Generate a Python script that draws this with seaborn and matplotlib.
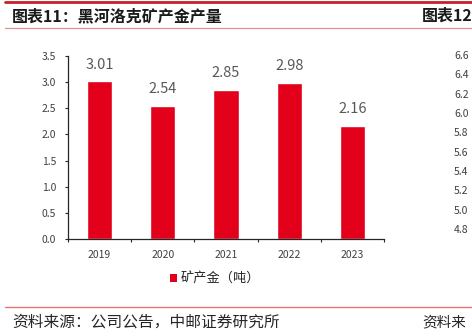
import matplotlib
matplotlib.use("Agg")
import matplotlib.pyplot as plt
from matplotlib.lines import Line2D
from matplotlib.patches import Patch
import seaborn as sns
import pandas as pd
import numpy as np

# Heihe Luoke mine gold output (tonnes)
years = ["2019", "2020", "2021", "2022", "2023"]
gold_output = [3.01, 2.54, 2.85, 2.98, 2.16]
series_name = "矿产金（吨）"
title_text = "图表11：黑河洛克矿产金产量"
next_title_text = "图表12"
source_text = "资料来源：公司公告，中邮证券研究所"
next_source_text = "资料来"
next_chart_ticks = [4.8, 5.0, 5.2, 5.4, 5.6, 5.8, 6.0, 6.2, 6.4, 6.6]

sns.set_theme(style="white")
plt.rcParams["font.family"] = ["Noto Sans CJK SC", "DejaVu Sans"]

W, H = 472, 336
fig = plt.figure(figsize=(W / 100, H / 100), dpi=100)
fig.patch.set_facecolor("white")

def fx(px):
    return px / W

def fy(py):
    return 1 - py / H

BAR_RED = "#E2001A"
AX_COLOR = "#262626"
TXT_GRAY = "#404040"

# main bar chart
ax = fig.add_axes([fx(68), fy(239.3), fx(384) - fx(68), fy(55.7) - fy(239.3)])
df = pd.DataFrame({"year": years, "value": gold_output})
sns.barplot(data=df, x="year", y="value", color=BAR_RED, saturation=1,
            width=0.4, ax=ax, label=series_name)
ax.set_xlim(-0.5, len(years) - 0.5)
ax.set_ylim(0, 3.5)
ax.set_yticks(np.arange(0, 3.51, 0.5))
ax.set_yticklabels([f"{v:.1f}" for v in np.arange(0, 3.51, 0.5)])
ax.set_xlabel("")
ax.set_ylabel("")
for s in ["top", "right"]:
    ax.spines[s].set_visible(False)
for s in ["left", "bottom"]:
    ax.spines[s].set_color(AX_COLOR)
    ax.spines[s].set_linewidth(0.9)
ax.tick_params(axis="y", which="major", left=True, length=2.5, width=0.8,
               color=AX_COLOR, pad=6, labelsize=7.5, labelcolor=TXT_GRAY)
ax.tick_params(axis="x", which="major", bottom=False, length=0, pad=8,
               labelsize=7.5, labelcolor=TXT_GRAY)
ax.set_xticks(np.arange(-0.5, len(years)), minor=True)
ax.tick_params(axis="x", which="minor", bottom=True, length=2.5, width=0.8,
               color=AX_COLOR)
ax.grid(False)

for i, v in enumerate(gold_output):
    ax.annotate(f"{v:.2f}", xy=(i, v), xytext=(0, 7), textcoords="offset points",
                ha="center", va="bottom", fontsize=10.5, color="#595959")

if ax.get_legend() is not None:
    ax.get_legend().remove()
fig.legend(handles=[Patch(facecolor=BAR_RED, edgecolor="none")],
           labels=[series_name], loc="center",
           bbox_to_anchor=(fx(215), fy(279)), frameon=False,
           handlelength=0.55, handleheight=0.55, handletextpad=0.3,
           fontsize=9.5, labelcolor="#262626")

# neighbouring chart's axis, cut off at the right edge
ax2 = fig.add_axes([1.0, fy(229), 0.08, fy(55) - fy(229)])
ax2.set_ylim(4.8, 6.6)
ax2.set_yticks(next_chart_ticks)
ax2.set_yticklabels([f"{v:.1f}" for v in next_chart_ticks])
ax2.set_xticks([])
for s in ax2.spines.values():
    s.set_visible(False)
ax2.tick_params(axis="y", length=0, pad=2.5, labelsize=7.5, labelcolor=TXT_GRAY)
ax2.patch.set_alpha(0)

# header and footer rules
fig.add_artist(Line2D([fx(5), 1], [fy(2), fy(2)], color="#C8202B", lw=2.0))
fig.add_artist(Line2D([fx(5), 1], [fy(28), fy(28)], color="#E39090", lw=0.9))
fig.add_artist(Line2D([fx(5), 1], [fy(306.5), fy(306.5)], color="#E07878", lw=1.0))

fig.text(fx(12), fy(16), title_text, fontsize=11.5, fontweight="bold",
         color="#1A1A1A", ha="left", va="center")
fig.text(fx(422), fy(16), next_title_text, fontsize=11.5, fontweight="bold",
         color="#1A1A1A", ha="left", va="center")
fig.text(fx(12), fy(322), source_text, fontsize=11.3, color="#262626",
         ha="left", va="center")
fig.text(fx(422), fy(322), next_source_text, fontsize=10.5, color="#262626",
         ha="left", va="center")

fig.savefig("out.png", dpi=100, facecolor="white")
